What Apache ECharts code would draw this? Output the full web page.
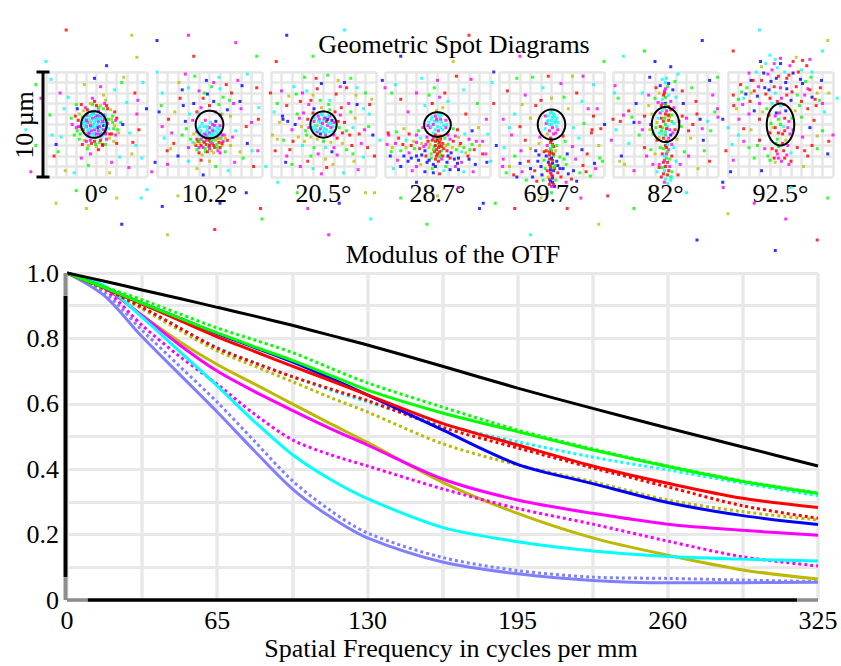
<!DOCTYPE html>
<html>
<head>
<meta charset="utf-8">
<script src="https://cdn.jsdelivr.net/npm/echarts@6/dist/echarts.min.js"></script>
<style>
html,body{margin:0;padding:0;background:#fff;overflow:hidden}
#c{width:841px;height:666px}
</style>
</head>
<body>
<div id="c"></div>
<script>
// ---------- MTF data (modulus vs spatial frequency, cycles/mm) ----------
const freq = [0, 16.25, 32.5, 48.75, 65, 81.25, 97.5, 113.75, 130, 162.5, 195, 227.5, 260, 292.5, 325];
const freqTickLabels = [0, 65, 130, 195, 260, 325];
const mtfTickLabels = [0, 0.2, 0.4, 0.6, 0.8, 1.0];

const mtfDiffraction = [1, 0.975, 0.948, 0.922, 0.895, 0.868, 0.84, 0.81, 0.78, 0.715, 0.648, 0.586, 0.526, 0.468, 0.41];
const mtfGreenT   = [1, 0.955, 0.908, 0.862, 0.817, 0.774, 0.733, 0.688, 0.642, 0.572, 0.515, 0.459, 0.408, 0.362, 0.326];
const mtfGreenS   = [1, 0.958, 0.918, 0.875, 0.832, 0.795, 0.757, 0.71, 0.664, 0.59, 0.52, 0.462, 0.41, 0.364, 0.327];
const mtfBlueT    = [1, 0.955, 0.908, 0.862, 0.815, 0.772, 0.728, 0.679, 0.627, 0.52, 0.415, 0.356, 0.298, 0.258, 0.231];
const mtfRedT     = [1, 0.954, 0.905, 0.855, 0.805, 0.76, 0.715, 0.672, 0.627, 0.54, 0.474, 0.41, 0.357, 0.311, 0.283];
const mtfRedS     = [1, 0.952, 0.895, 0.832, 0.77, 0.725, 0.683, 0.646, 0.61, 0.528, 0.465, 0.404, 0.346, 0.288, 0.25];
const mtfCyanS    = [1, 0.952, 0.895, 0.832, 0.772, 0.726, 0.683, 0.643, 0.606, 0.537, 0.484, 0.437, 0.398, 0.357, 0.319];
const mtfOliveS   = [1, 0.95, 0.89, 0.825, 0.762, 0.715, 0.668, 0.62, 0.575, 0.478, 0.413, 0.362, 0.306, 0.27, 0.245];
const mtfOliveT   = [1, 0.955, 0.87, 0.79, 0.72, 0.66, 0.60, 0.54, 0.482, 0.36, 0.265, 0.19, 0.137, 0.092, 0.064];
const mtfMagentaT = [1, 0.955, 0.87, 0.78, 0.70, 0.637, 0.58, 0.525, 0.474, 0.37, 0.306, 0.265, 0.232, 0.213, 0.198];
const mtfCyanT    = [1, 0.96, 0.865, 0.76, 0.655, 0.545, 0.445, 0.37, 0.31, 0.222, 0.178, 0.15, 0.133, 0.125, 0.119];
const mtfMagentaS = [1, 0.95, 0.84, 0.745, 0.66, 0.568, 0.49, 0.445, 0.41, 0.34, 0.28, 0.232, 0.18, 0.132, 0.104];
const mtfVioletT  = [1, 0.93, 0.805, 0.69, 0.575, 0.455, 0.34, 0.255, 0.19, 0.116, 0.08, 0.06, 0.053, 0.053, 0.054];
const mtfVioletS  = [1, 0.94, 0.825, 0.715, 0.605, 0.485, 0.365, 0.275, 0.205, 0.13, 0.09, 0.07, 0.066, 0.061, 0.056];

// ---------- spot diagram data (µm, relative to chief ray); x, y, wavelength index ----------
const fieldAngles = ['0°', '10.2°', '20.5°', '28.7°', '69.7°', '82°', '92.5°'];
// Airy disk per field: centre x, centre y, radius x, radius y (µm)
const airyDisks = [
  [-0.25, 0, 1.27, 1.27], [0, 0, 1.32, 1.32], [0, 0, 1.25, 1.25], [0, 0, 1.27, 1.17],
  [0, 0, 1.31, 1.43], [0, 0, 1.31, 1.67], [0, 0, 1.31, 2.0]
];
const spot0 = [
 -0.3,0,3, 0.2,0.3,4, -0.8,0.5,3, 0.5,-0.4,3, -0.5,-0.6,4, 0.0,0.9,3, -1.0,-0.2,4, 0.8,0.2,3, -0.2,-1.0,3, 0.4,0.8,4,
 -0.9,0.9,1, 0.9,-0.8,0, -1.2,0.3,3, 0.1,-0.3,2, -0.6,0.2,5, 0.6,0.6,3, -0.4,0.6,4, 0.3,-0.9,4, -0.9,-0.7,3, 1.0,-0.2,4,
 -0.1,0.4,3, 0.7,-0.1,2, -1.3,-0.5,0, -0.5,1.2,3, 0.2,1.3,4, 0.9,0.9,3, -0.2,-0.5,4, -0.7,-1.1,3, 0.5,-1.2,3, 1.2,0.5,1,
 -0.1,0.7,4, 0.5,0.1,3, -0.6,-0.3,3, 0.2,-0.6,4, -0.4,-0.2,3, 0.7,0.9,4, -1.1,0.6,3, 0.9,-0.5,3, -0.8,-0.9,4, 0.0,-1.2,3,
 0.3,1.0,3, -0.5,0.9,3, 1.1,0.1,4, -1.2,-0.1,3, 0.6,-0.9,4, -0.3,1.1,4, 0.1,0.0,3, -0.9,0.2,4, 0.4,0.5,3, -0.2,-0.8,3,
 -1.0,0.4,4, -0.7,0.8,3, -0.3,1.0,3, 0.1,0.8,4, 0.5,0.9,3, 0.8,0.5,4, 1.0,0.3,3, 0.9,-0.1,3, 0.7,-0.5,4, 0.4,-0.7,3,
 0.0,-0.9,4, -0.4,-0.9,3, -0.8,-0.5,3, -1.1,-0.3,3, -1.0,0.1,3, -0.6,-0.1,4, -0.2,0.2,3, 0.2,0.5,3, 0.3,-0.2,4, -0.1,-0.3,3,
 -0.5,0.4,3, 0.6,0.3,4, 0.0,0.6,3, -0.7,-0.8,4, 0.6,-1.0,3, -0.2,1.3,3, 0.9,-0.9,4, -1.3,0.1,3, -1.0,0.9,4, 1.2,-0.4,3,
 -1.8,0.4,0, -1.6,-0.9,1, -1.2,-1.5,5, -0.5,-1.8,0, 0.3,-1.7,1, 1.0,-1.4,4, 1.5,-0.9,0, 1.8,-0.1,5, 1.6,0.8,1, 1.1,1.5,0,
 0.4,1.8,5, -0.4,1.9,1, -1.1,1.6,4, -1.7,1.0,5, -2.0,-0.3,4, -1.4,-1.9,0, 0.0,-2.1,5, 0.9,-1.9,1, 1.9,-1.0,4, 2.0,0.6,0,
 1.4,1.4,5, -0.2,2.2,0, -1.9,1.5,2, -2.2,-1.0,1, 0.6,-2.0,0, 2.1,-0.5,1, -0.8,-2.0,5, 1.7,-1.6,5, -1.5,1.9,0, 0.8,2.0,4,
 -1.6,-0.2,0, 1.6,0.2,1, -1.3,1.3,5, 1.3,-1.3,5, -0.2,-1.6,0, 0.2,1.6,1, -1.0,-1.6,4, 1.0,1.8,0, -1.9,-0.6,1, 1.9,0.4,4,
 -0.6,2.0,5, 0.6,-1.9,0, -2.1,0.8,0, 2.2,-0.8,5, -1.7,-1.4,1, 1.8,1.2,0, -0.9,-2.3,1, 0.9,2.3,5, -2.4,0.0,4, 2.4,0.2,1,
 0.2,-2.4,0, -0.4,2.5,4, -2.0,1.9,1, 2.0,-1.8,0,
 -1.4,0.7,1, 1.5,0.5,5, -0.9,1.4,0, 0.7,1.5,1, -1.5,-0.5,5, 1.3,-0.9,0, -0.6,-1.5,4, 0.4,-1.5,0, -1.8,-0.2,4, 1.7,-0.4,1,
 0.0,1.8,0, -0.1,-1.9,1,
 -2.8,2.6,3, 3.0,2.1,3, -3.5,-1.2,3, 3.6,-1.7,0, 2.3,-3.1,3, -0.8,-3.9,1, 0.4,3.6,4, -3.6,3.0,4, 4.0,1.0,4, -4.2,-3.0,0,
 1.8,3.3,3, -1.5,-3.2,4, 3.2,-4.1,4, -4.6,0.9,1, 4.5,-3.2,3, -0.2,4.4,2, 2.7,4.5,5, -3.1,-4.4,5, 1.3,-4.6,5, 4.6,4.0,3,
 -4.5,4.3,3, 0.7,2.8,5, -2.5,0.6,1, 2.6,0.0,2, -0.6,-2.8,4, 4.2,-0.5,0, -4.0,-1.9,2, 3.8,3.0,0,
 -3.2,1.5,3, 3.3,-0.8,3, -1.2,3.8,5, 1.5,-3.6,4, -4.4,-1.0,3, 4.1,2.3,4, -2.2,-4.6,3, 2.5,4.0,1, -3.8,-2.6,1, 3.5,-2.8,5,
 -6.0,-2.0,1, -5.5,2.5,4, 5.8,-3.6,2, 6.2,1.2,2, -2.0,-6.3,1, 2.0,-7.0,5, -5.0,6.0,3, 4.0,6.4,5, 1.0,5.6,2, -7.0,-0.5,3,
 6.5,-0.2,4, -3.0,9.0,0, 3.5,8.5,5, -1.0,-8.0,5, 5.0,-6.2,3,
 -6.5,-4.5,4, 7.0,-2.5,0, -4.0,-7.5,5, 6.0,5.0,3, -6.0,3.8,1, 2.5,-9.5,2
];
const spot1 = [
 -0.5,-0.2,3, 0.3,-0.4,3, 0.0,-0.8,4, -0.8,-0.6,3, 0.7,-0.7,3, -0.3,-1.0,4, 0.5,-0.1,4, -0.9,-0.2,3, 0.9,-0.4,3, 0.1,0.2,3,
 -0.4,0.4,4, 0.6,0.3,2, -0.2,-0.5,3, 0.2,-1.1,3, -0.6,-1.2,4, 0.8,-1.0,4, -1.0,-1.0,3, 1.1,-0.8,3, 0.0,-0.3,4, -0.7,0.1,3, 0.4,-0.9,3,
 -0.3,-0.7,3, 0.5,-0.6,3, 0.2,-0.9,3, -0.5,-0.9,4, 0.7,-0.3,3, -0.2,-0.2,3, 0.3,0.0,4, -1.1,-0.4,3, 1.0,-0.1,4,
 -0.9,-0.8,3, -0.4,-1.2,3, 0.1,-1.3,3, 0.6,-1.1,3, 1.0,-0.6,3, -1.2,-0.7,4, 1.2,-1.0,4, -0.7,-1.0,3, 0.3,-0.6,4, -0.1,-1.0,3,
 0.8,-1.3,4, -0.3,-1.5,4, 0.9,-0.9,3,
 -1.2,-1.4,0, -0.6,-1.6,1, 0.0,-1.5,0, 0.6,-1.5,5, 1.1,-1.3,1, -0.9,-1.8,5, -0.3,-1.9,0, 0.3,-1.8,4, 0.9,-1.7,0, 1.4,-1.0,4,
 -1.5,-0.9,5, -0.1,-2.1,1, 0.5,-2.2,0, -0.6,-2.2,4, 1.2,-2.0,5, -1.3,-2.0,0, -1.8,-1.4,1, 1.7,-1.5,0, 0.2,-2.5,5, -0.4,-2.6,1,
 0.8,-2.5,4, -1.0,-2.7,0, 1.5,-2.6,1, -2.0,-2.2,4, 2.0,-2.0,5, -1.6,-1.7,3,
 -0.2,-1.3,0, 0.4,-1.4,1, -0.8,-1.4,4, 0.9,-1.3,5, -0.5,-1.7,0, 0.1,-1.7,4, 0.7,-1.9,1, -1.1,-1.6,0, 1.3,-1.6,4, -0.1,-1.9,5,
 0.4,-2.0,0, -0.4,-2.3,1, -1.0,-2.2,4, 1.0,-2.2,0, 0.0,-2.3,4,
 0.2,-1.6,1, -1.0,-1.5,1, 1.2,-1.8,0, -0.8,-2.0,0, 0.7,-2.2,1, -1.4,-1.8,5, 1.5,-1.3,5, -0.2,-2.6,0, 0.4,-2.7,5, -1.2,-2.4,1,
 1.0,-2.7,4, -0.7,-2.9,5, 0.0,-2.0,0,
 -1.5,2.0,2, -0.6,2.5,0, 0.4,2.2,2, 1.3,2.6,1, -1.0,3.2,4, 0.2,3.6,1, 1.0,3.4,3, -2.0,3.5,3, 2.1,3.0,0, -0.3,4.2,2,
 0.9,4.5,3, -1.4,4.6,1, 2.7,4.2,4, -2.8,2.5,0, 3.0,1.5,4, -3.3,1.2,5, 1.7,1.4,2, -1.9,1.0,3, -3.9,0.5,0, 4.0,0.2,4,
 -4.3,-1.3,3, 3.6,-1.8,2, -2.6,-1.0,1, 2.5,-0.6,3, -3.0,-3.0,2, 3.2,-3.2,1, 0.0,-3.5,5, -1.2,-4.2,5, 1.8,-4.4,3, -4.0,-3.8,4,
 4.2,-4.0,0, -0.6,-4.8,2, 2.9,2.2,2, -4.5,3.0,3, 4.5,3.5,0, -2.3,4.8,4, 3.6,4.8,3, -3.7,-2.3,5, 4.6,-2.5,4, -2.3,0.3,2,
 2.0,0.8,5, 0.0,1.8,0, -0.8,1.6,4, 0.9,1.9,1,
 -1.2,1.2,0, 1.2,1.0,5, -2.5,1.8,2, 2.3,2.0,4, -0.5,3.0,1, 1.6,3.8,0, -2.9,4.0,5, 3.1,3.7,2, -3.6,-0.8,4, 3.5,-0.2,0,
 -2.0,-3.5,3, 2.4,-3.6,4, -0.8,-3.4,0, 0.6,-4.0,1, -4.6,1.8,1, 4.7,1.6,3, 1.0,0.9,2, -1.6,0.4,4,
 -1.0,1.0,3, 0.6,1.2,4, -2.2,-0.4,1, 2.2,-1.2,4, -0.2,2.9,2, 1.9,2.3,1, -2.6,3.3,2, 0.4,4.0,4, -3.4,-1.8,0, 2.9,-2.6,5,
 -6.0,1.5,2, 6.0,-1.0,5, -5.5,-4.5,4, 5.8,3.0,0, -3.0,-6.8,5, 3.5,-6.5,2, 1.0,-7.5,2, -1.5,6.5,0, 2.5,7.8,4, -5.0,8.0,2,
 6.5,-5.5,3, -4.0,-10.5,5, 5.0,-9.0,1, -6.5,-7.0,3,
 -7.0,-2.0,3, 7.0,0.5,2, -2.0,8.5,4, 4.5,6.5,1, -4.5,-7.8,2, 0.5,-10.0,0
];
const spot2 = [
 -0.3,0.2,3, 0.4,-0.1,4, -0.7,-0.4,3, 0.2,0.7,3, 0.8,0.4,2, -0.5,0.8,4, 0.0,-0.7,3, -0.9,0.3,4, 0.6,-0.7,3, -0.3,-0.9,2,
 0.9,-0.2,3, -0.1,0.1,4, 0.3,0.3,0, -0.6,-0.1,5,
 0.1,-0.4,3, -0.4,0.5,4, 0.5,0.1,3, -0.8,-0.1,3, 0.6,0.8,4, -0.2,1.0,3, 0.2,-1.0,4, -0.6,-0.7,4, 0.9,-0.6,3, -1.0,0.7,3,
 0.0,0.4,3, -0.3,-0.4,4, 0.4,0.5,2, -0.9,-0.6,3, 0.7,-0.3,4,
 -0.5,0.3,3, 0.3,-0.5,3, 0.7,0.1,3, -0.2,-0.2,3, 0.1,0.6,4, -0.8,0.6,3, 0.5,0.9,3, -0.4,-0.6,3, 1.0,0.2,4, -1.0,-0.3,3,
 0.2,-0.8,3, -0.1,0.9,3,
 -1.5,0.5,0, 1.5,-0.3,1, -1.2,-1.2,5, 1.1,1.2,0, 0.0,-1.6,1, -0.2,1.6,5, 1.6,0.9,4, -1.7,-0.6,1, 1.3,-1.3,0, -0.9,1.5,2,
 0.7,-1.7,5, -1.9,1.1,4, 2.0,0.2,0, -2.1,-0.2,5, 0.5,1.9,1,
 -1.4,-0.3,4, 1.4,0.3,0, -0.6,-1.4,5, 0.6,1.4,1, -1.0,1.1,0, 1.0,-1.0,4, -2.3,0.6,4, 2.2,-0.6,1, -1.8,-1.6,5, 1.7,1.6,0,
 -0.3,2.3,1, 0.2,-2.2,3,
 -2.5,1.0,1, 2.5,-1.0,0, -3.0,-0.5,4, 3.0,0.6,5, -2.2,2.2,0, 2.4,2.0,4, -2.0,-2.0,3, 2.2,-2.4,1, -1.0,2.8,5, 1.2,2.9,0,
 -0.5,-2.8,4, 0.8,-2.6,2, -3.5,1.8,0, 3.6,-1.8,4, -3.8,-1.5,1, 3.8,1.5,3, -1.5,-3.5,0, 1.6,3.6,4, -4.2,0.2,5, 4.3,-0.2,1,
 -2.8,3.6,3, 2.9,-3.5,5, -0.2,3.9,2, 0.3,-4.1,0, -4.0,3.2,4, 4.0,3.0,1, -3.6,-3.6,2, 3.3,-4.3,4, -1.8,4.5,1, 1.9,-4.6,3,
 -4.6,-2.5,0, 4.6,2.4,5, -2.7,0.0,2, 2.8,-0.3,3, -1.4,1.9,4, 1.8,-1.8,5, -2.9,-1.6,0, 3.2,1.9,2, -0.9,-2.2,1, 0.6,2.3,3,
 -3.3,2.7,5, 2.2,3.5,0, -4.7,1.2,3, 4.7,-1.0,2, -2.2,-4.0,4, 2.6,4.4,1,
 -3.2,-2.4,0, 3.1,2.8,5, -1.2,-3.0,1, 1.3,-2.9,4, -2.6,2.9,1, 2.7,-2.0,0, -3.9,0.8,2, 3.9,-0.5,4, -0.7,4.4,0, 0.9,-3.8,5,
 -4.4,-1.4,5, 4.4,1.9,0, -1.6,3.2,3, 2.0,4.0,2, -3.0,-3.8,1, 3.8,-3.1,3, -0.2,-4.7,4, 0.4,4.7,1,
 -1.6,-1.0,1, 1.8,-0.8,0, -2.4,-1.2,5, 2.6,1.2,1, -1.2,2.3,0, 1.0,-2.2,4, -3.4,0.3,2, 3.4,-0.9,0, -2.0,3.0,4, 2.8,-2.8,1,
 -0.6,3.4,0, 0.2,-3.3,5, -4.4,2.0,1, 4.2,-2.2,0, -1.0,-4.2,3, 1.4,4.2,5, -3.5,-3.0,4, 3.2,3.5,3,
 -6.2,0.5,0, 6.2,-1.0,4, -5.5,-4.0,3, 5.6,4.2,2, -2.5,-6.5,1, 1.5,-7.5,2, -1.0,6.5,1, 3.0,7.0,5, -6.0,-8.0,0, 0.5,-10.5,4,
 4.5,-9.0,3, -3.5,8.5,2,
 -6.8,-2.5,3, 6.5,3.0,1, -4.5,6.0,0, 4.0,-6.5,5, -1.5,-8.0,4, 2.0,9.0,3
];
const spot3 = [
 -0.3,0.3,3, 0.3,0.5,4, 0.0,-0.2,3, -0.7,-0.3,4, 0.6,-0.1,3, -0.2,0.8,4, 0.4,0.9,3, -0.6,0.5,3, 0.8,0.4,4, 0.1,-0.6,4, -0.4,-0.8,3,
 0.0,0.3,3, -0.4,0.0,4, 0.4,0.2,3, -0.2,-0.5,3, 0.2,0.7,3, -0.8,0.2,3, 0.8,-0.3,4,
 -0.6,-0.2,3, 0.5,-0.5,3, -0.1,0.5,4, 0.3,-0.3,3, -0.5,0.7,3, 0.9,0.0,3, -0.9,-0.1,4, 0.1,1.0,3,
 -0.5,2.0,0, 0.2,2.6,4, -0.3,3.5,1, 0.5,1.6,5, -1.2,1.8,3, 1.0,2.2,3, 0.0,4.2,4, -2.0,3.0,4, 2.5,3.3,3, -3.5,2.4,0,
 3.8,2.0,1, -1.5,4.4,3, 1.8,4.6,0,
 -0.8,2.8,1, 0.7,3.0,0, -2.8,1.2,4, 2.7,1.0,0, -4.0,3.8,3, 3.2,4.3,4, -0.1,1.3,5,
 0.0,-1.2,0, -0.2,-1.6,0, 0.2,-2.0,0, -0.1,-2.4,0, 0.1,-1.8,1, 0.3,-1.4,0, -0.3,-2.1,1, 0.0,-2.8,0, 0.4,-2.5,1, -0.4,-1.3,4, 0.2,-3.1,1,
 -0.2,-1.0,0, 0.3,-1.1,0, -0.5,-1.5,0, 0.5,-1.8,0, -0.3,-2.6,0, 0.1,-2.2,0, -0.1,-1.4,1, 0.6,-2.3,0, -0.6,-2.8,1, 0.3,-2.9,1,
 -0.2,-3.3,0, 0.7,-1.3,1, -0.9,-1.6,0, 1.0,-1.9,1,
 0.0,-1.5,0, 0.2,-1.7,0, -0.2,-2.0,0, 0.4,-2.1,0, -0.4,-2.4,1, 0.2,-2.6,0, -0.1,-3.0,0, 0.5,-3.0,0, -0.6,-3.2,1, 0.1,-3.5,0,
 -0.8,-2.2,5, 0.9,-2.5,0, -1.1,-1.9,4, 1.2,-1.4,4, -1.7,-2.3,0, 1.8,-2.4,1, -2.0,-1.7,4, 2.1,-2.0,5, -1.0,-3.6,2, 1.0,-3.0,2,
 -1.8,-3.4,2, 1.9,-3.7,2, -3.0,-2.2,5, 3.1,-2.4,1, -3.7,-1.3,0, 3.7,-1.6,4, -4.4,-2.6,1, 4.3,-2.8,0, -3.2,-3.0,2, 3.0,-3.3,2,
 -0.4,-4.6,2, 0.8,-4.0,1, -2.0,-4.0,4, 2.0,-4.3,2,
 -1.0,-1.2,4, 1.0,-1.0,4, -1.5,-1.8,5, 1.5,-1.6,0, -2.0,-1.0,4, 2.0,-1.2,5, -2.5,-2.0,0, 2.5,-2.2,1, -3.0,-1.5,3, 3.0,-1.4,4,
 -3.5,-2.5,1, 3.5,-2.4,0, -4.0,-1.8,4, 4.0,-2.0,5, -1.2,-2.5,2, 1.3,-2.7,2, -2.0,-3.0,2, 2.0,-3.2,2, -0.8,-3.4,2, 0.9,-3.6,2,
 -2.8,-3.5,2, 2.9,-3.0,0, -1.6,-3.8,5, 1.7,-4.0,4, -3.8,-3.4,4, 3.6,-3.8,2, -4.5,-3.0,2, 4.6,-2.8,4, -0.5,-4.2,1, 0.6,-4.4,3,
 -2.4,-4.4,4, 2.5,-4.5,3, -4.7,-0.8,0, 4.8,-0.9,3, -1.8,-0.6,1, 1.9,-0.5,0, -3.2,-0.4,5, 3.3,-0.6,2, -0.7,-1.9,5, 0.8,-2.0,5,
 -1.1,-3.0,0, 1.2,-3.2,0, -0.4,-3.8,2, 0.4,-3.3,4, -2.2,-2.3,1, 2.3,-2.6,3, -4.2,-4.2,3,
 -1.3,-2.1,4, 1.4,-2.2,5, -1.6,-1.3,3, 1.7,-1.1,4, -2.3,-1.6,5, 2.2,-1.8,0, -2.7,-2.7,4, 2.7,-2.7,5, -3.3,-1.9,0, 3.3,-1.9,1,
 -1.5,-2.9,2, 1.6,-3.3,2, -2.5,-3.2,2, 2.3,-3.6,4, -0.2,-4.0,2, 0.2,-4.7,0, -1.2,-4.5,2, 1.2,-4.3,2, -3.5,-4.0,2, 3.4,-4.5,4,
 -4.3,-2.2,5, 4.3,-1.6,4, -4.8,-1.9,4, 4.7,-3.6,2, -3.9,-0.7,1, 3.9,-0.3,5, -1.4,-0.3,4, 1.5,-0.4,1, -2.7,-0.9,0, 2.6,-0.9,3,
 -5.5,-1.5,3, 5.6,-2.0,2, -5.0,3.5,4, 5.2,4.0,3, -2.0,-5.5,2, 2.0,-6.0,4, 0.0,-6.8,5, -3.5,6.5,2, 3.0,8.5,0, -1.0,-9.5,1,
 5.5,-7.5,1, -6.0,-6.5,5,
 -6.0,-3.0,0, 6.2,-4.0,4, -3.5,-7.0,1, 4.0,-8.0,2, -6.5,1.0,3, 1.5,6.0,5
];
const spot4 = [
 0.0,0.4,3, -0.3,0.8,3, 0.3,0.2,3, -0.5,0.1,4, 0.5,0.6,3, 0.1,-0.3,4, -0.2,-0.6,4, 0.4,-0.8,4, -0.6,-0.4,3, 0.2,1.0,3,
 0.0,0.0,3, -0.3,0.4,3, 0.3,0.8,3, -0.1,1.1,3, 0.5,-0.2,3, -0.6,0.8,4, 0.6,-0.5,4, -0.4,-0.9,5, 0.2,-0.9,4,
 0.1,0.7,3, -0.4,0.3,3, 0.4,0.4,3, 0.0,1.2,3, -0.2,0.0,3, 0.6,0.2,3,
 0.0,-1.5,0, 0.1,-1.9,0, -0.1,-2.3,1, 0.0,-2.7,0, 0.2,-3.0,1, -0.2,-3.3,0, 0.1,-3.7,2, -0.1,-4.0,0, 0.2,-4.4,2, 0.0,-4.8,4,
 -0.2,-5.2,0, 0.1,-5.5,2, 0.0,-5.9,4, -0.4,-2.0,4, 0.4,-2.5,5, -0.5,-3.0,2, 0.5,-3.5,2, -0.6,-4.2,1, 0.6,-4.6,0, -0.3,-5.0,5, 0.4,-5.3,1,
 -0.1,-1.7,0, 0.2,-2.1,0, 0.0,-2.5,1, -0.2,-2.9,0, 0.1,-3.4,0, 0.3,-3.9,1, -0.1,-4.6,0, 0.1,-5.1,2, -0.3,-3.6,2, 0.3,-4.2,0,
 -0.2,-5.7,0, 0.3,-5.9,2, -0.7,-2.6,0, 0.8,-3.1,1, -0.9,-4.8,2, 0.9,-5.0,0, -1.3,-3.5,2, 1.4,-3.8,1, -1.6,-4.4,0, 1.6,-4.7,2,
 -0.1,-1.3,0, 0.1,-2.0,1, -0.2,-2.6,0, 0.2,-2.8,0, 0.0,-3.2,2, -0.2,-3.8,0, 0.2,-4.1,1, -0.1,-4.3,2, 0.1,-4.9,0, -0.1,-5.4,2,
 0.2,-5.7,0, -0.4,-4.4,0, 0.5,-2.0,1, -0.5,-2.5,0, 0.6,-3.9,2, -0.7,-3.4,1, 0.8,-4.2,2, -0.8,-5.3,1,
 -1.5,-2.5,2, 1.5,-2.8,2, -2.2,-3.5,0, 2.3,-3.3,4, -1.0,-4.0,2, 1.1,-4.2,2, -2.8,-4.5,4, 2.7,-4.6,1, -1.8,-5.0,2, 1.9,-5.2,0,
 -3.5,-3.0,1, 3.4,-2.8,0, -4.0,-4.0,5, 4.2,-4.2,4, -1.2,-1.8,5, 1.3,-1.6,1, -2.5,-1.5,0, 2.6,-1.3,3, -3.8,-1.0,4, 3.8,-0.8,0,
 -4.5,-2.2,3, 4.5,-2.0,5,
 -2.0,-2.3,5, 2.0,-2.1,4, -3.0,-3.7,2, 3.0,-3.9,0, -2.4,-5.3,1, 2.4,-5.4,2, -3.6,-4.8,0, 3.7,-4.9,1, -4.6,-3.3,4, 4.6,-3.2,1,
 -1.1,-1.2,4, 1.1,-1.1,0,
 -1.2,-2.9,2, 1.2,-3.3,1, -2.0,-4.2,2, 2.1,-4.4,2, -1.4,-5.4,0, 1.4,-5.5,4, -2.9,-2.5,4, 2.9,-2.4,2, -3.3,-5.0,2, 3.3,-4.5,0,
 -4.3,-4.6,1, 4.1,-3.7,2,
 -1.5,1.8,0, 1.6,1.5,5, -2.5,2.8,4, 2.4,3.0,0, -0.8,3.5,3, 0.9,3.9,4, -3.5,1.0,3, 3.5,1.5,4, -4.2,3.2,0, 4.0,3.8,3,
 -1.8,4.5,1, 2.0,4.6,5, -3.0,-0.2,0, 3.1,0.1,1, -4.6,0.5,4, 4.7,-0.4,0, 0.0,2.5,5, -2.0,0.6,5, 2.1,-0.3,3,
 -1.0,2.3,0, 1.2,2.6,1, -2.8,1.9,5, 2.9,2.2,3, -4.0,-0.3,3, 4.0,0.8,0, -3.3,4.4,1, 3.0,4.6,4, -0.3,4.6,0,
 -5.8,-3.5,3, 5.7,-1.5,4, -5.5,2.0,0, 6.0,3.0,3, -1.0,-7.0,5, 1.5,-8.0,0, 0.0,-6.5,1, -3.0,6.5,4, 2.5,7.0,3, -6.5,-7.5,2,
 4.5,-9.5,5, -2.0,-10.5,3,
 -6.2,0.5,4, 6.5,-3.5,5, -5.5,5.0,2, 5.0,6.0,1, -3.5,-8.0,0, 2.8,-7.0,4
];
const spot5 = [
 0.0,0.0,1, -0.4,0.6,0, 0.4,-0.5,4, -0.6,-0.8,3, 0.6,0.9,1, 0.1,1.3,4, -0.2,-1.3,0, 0.8,0.1,3, -0.8,0.2,5, 0.3,0.4,0,
 -0.3,-0.3,1, 0.5,-1.0,2, -0.5,1.1,4, 0.0,-0.7,3, 0.2,0.8,5, -0.9,-0.3,1, 0.9,-0.5,0,
 -0.2,0.3,0, 0.2,-0.2,3, -0.4,-0.6,1, 0.4,0.7,5, 0.0,1.0,0, 0.0,-1.0,1, -0.7,0.6,3, 0.7,-0.8,4, -0.1,1.6,1, 0.1,-1.6,0,
 -0.1,0.6,1, 0.1,-0.4,0, -0.3,1.3,3, 0.3,-1.3,4, -0.5,-0.2,0, 0.6,0.3,1, -0.6,-1.2,5, 0.5,1.4,0, -0.3,-0.9,3, 0.3,0.9,0,
 0.0,2.0,2, -0.3,2.4,3, 0.3,2.8,3, -0.1,3.2,4, 0.2,3.6,1, -0.4,1.8,0, 0.5,2.2,4, 0.0,4.0,3, -0.6,3.0,5, 0.7,3.3,2,
 -1.0,2.5,1, 1.0,2.6,3,
 -0.3,2.0,4, 0.3,1.7,0, 0.0,2.6,1, -0.1,3.0,0, 0.3,3.9,2, -0.3,4.3,3, 0.8,1.6,4, -0.9,3.5,0, 0.9,4.1,1,
 0.0,1.9,1, -0.2,2.8,0, 0.0,3.4,4, 0.1,4.4,3, -0.7,2.1,4, -0.5,3.7,2,
 0.0,-2.0,0, 0.3,-2.4,4, -0.3,-2.8,0, 0.1,-3.2,1, -0.2,-3.6,0, 0.4,-4.0,4, -0.1,-4.4,3, 0.2,-4.8,0, 0.0,-5.2,3, -0.5,-2.2,1,
 0.6,-3.0,0, -0.6,-3.8,4, 0.6,-4.5,1, -0.4,-5.0,0, 0.5,-5.3,3, -1.0,-2.8,5, 1.0,-3.5,3,
 0.2,-1.9,3, -0.2,-2.3,1, 0.1,-2.8,4, -0.1,-3.0,3, 0.2,-3.6,0, -0.3,-4.1,1, 0.3,-4.4,0, -0.1,-5.5,4, 0.5,-5.0,1, -0.8,-4.5,3,
 0.8,-2.2,3, -0.8,-1.5,0, -1.2,-3.8,4, 1.2,-4.8,0, -1.3,1.0,5, 1.3,0.3,4, -1.2,-0.9,1, 1.1,-1.4,5,
 0.1,-2.2,0, 0.2,-2.6,1, -0.1,-3.4,4, 0.0,-4.0,0, -0.2,-4.7,0, 0.2,-5.6,3, 0.6,-1.9,4, 0.4,-3.3,1, -0.6,-4.1,0, 0.6,-5.0,3,
 -2.0,0.8,0, 2.0,0.6,4, -3.0,0.2,2, 3.0,1.0,0, -4.0,0.9,4, 4.0,0.3,3, -5.0,0.5,0, 5.0,0.7,4, -2.5,-1.0,1, 2.4,-1.3,5,
 -3.5,-1.8,3, 3.6,-1.5,2, -1.6,1.8,5, 1.7,2.0,2, -2.2,3.0,3, 2.5,3.5,1, -4.2,-3.0,2, 4.2,-3.5,0, -1.8,-3.0,4, 1.8,-2.6,1,
 -3.0,-4.4,4, 3.1,-4.2,5, -1.5,4.5,2, 1.2,4.8,3, -4.5,2.5,1, 4.5,2.8,4, -1.5,-0.5,5, 1.5,-0.2,1,
 -2.5,0.2,4, 2.6,0.0,0, -3.5,1.3,0, 3.5,-0.4,4, -4.7,-0.5,3, 4.7,1.2,1, -2.8,2.0,2, 2.9,2.2,0, -2.0,-2.2,0, 2.2,-3.0,4,
 -3.9,-3.8,5, 3.7,-2.5,1, -4.8,3.7,4, 4.2,4.2,2,
 -1.4,0.0,2, 1.6,0.8,0, -2.2,-0.5,4, 2.2,-0.6,0, -3.2,0.7,1, 3.3,0.5,2, -4.3,0.3,0, 4.3,-0.6,1, -1.6,2.8,4, 1.6,3.2,0,
 -1.4,-2.4,1, 1.4,-3.8,4,
 -5.8,0.0,2, 6.0,-0.3,3, -6.5,1.5,4, 6.5,1.8,0, -1.0,6.0,2, 0.5,5.5,2, -2.0,7.0,1, 2.0,-6.5,3, -3.0,-8.0,1, 5.5,-6.0,4,
 -5.5,-6.8,0, 3.0,-11.0,2,
 -7.0,-0.5,0, 7.0,0.5,4, -6.0,-3.5,1, 6.2,-4.5,2, -4.0,6.5,3, 3.5,8.0,2
];
const spot6 = [
 0.0,0.0,1, -0.5,0.8,4, 0.4,-0.6,0, -0.3,-1.4,1, 0.5,1.3,2, 0.0,1.8,3, -0.7,-0.3,5, 0.8,0.3,4, 0.2,-1.8,0, -0.2,0.5,1, 0.3,-0.2,3,
 -0.4,1.1,2, 0.4,0.6,0, -0.9,0.1,1, 0.9,-0.9,4, -0.2,-0.8,0,
 -1.1,0.9,0, 1.1,0.6,1, -0.1,1.1,4, 0.2,-0.9,0, -0.5,-0.3,0, 0.7,-0.3,4, -0.4,-1.8,1, 0.5,-1.5,5,
 -1.0,2.5,0, 1.0,2.3,2, -2.0,2.0,4, 2.0,2.2,0, -1.5,3.5,2, 1.5,3.6,0, -0.5,3.0,3, 0.5,4.0,2, -2.5,3.2,0, 2.6,3.4,4,
 -0.2,4.6,0, -1.2,4.8,4, 1.2,4.9,2, -2.8,4.2,2, 2.9,4.5,1, -3.5,2.5,3, 3.4,1.8,0, -0.3,5.4,3, 0.9,5.6,4, -1.8,5.5,5,
 2.0,5.2,3, -3.2,3.5,1, 3.5,3.0,5, 0.0,3.5,4, -1.3,1.5,1, 1.4,1.3,5, -0.8,2.0,3, 0.6,2.8,0, -2.0,0.5,0, 2.0,0.7,1,
 -3.0,1.0,4, 3.2,0.4,0, -4.2,1.5,5, 4.2,1.2,3, -3.8,3.8,0, 3.9,4.2,2, 0.0,6.3,4, -1.0,6.6,3, 1.5,6.4,5,
 0.1,2.5,4, -0.6,3.6,0, 0.6,3.4,2, -1.4,2.9,0, 1.6,2.8,1, -2.2,2.7,2, 2.3,2.8,4, -1.8,4.2,0, 1.9,4.3,2, -0.9,4.1,2,
 0.8,4.7,0, -0.6,5.8,4, 0.4,5.0,3, -2.3,5.0,3, 2.5,5.6,0, -3.0,4.9,4, 3.0,5.0,3, -3.7,3.1,1, 3.8,3.5,0, -2.9,2.2,0,
 3.0,2.6,2, -1.7,1.2,5, 1.8,1.8,1, -2.5,1.3,2, 2.6,1.5,0, -3.6,1.9,4, 3.7,2.3,1, -4.5,2.8,0, 4.6,3.0,5, -0.5,6.2,3,
 1.2,6.0,0, -1.4,5.8,3, 2.8,6.2,4,
 -0.3,2.2,0, 0.3,1.9,4, -1.1,3.3,2, 1.1,3.1,0, -0.4,4.4,2, 0.6,4.4,0, -1.6,4.9,2, 1.7,5.0,0, -0.8,5.2,4, 0.0,5.8,2,
 -2.6,4.2,0, 2.4,4.1,1, -3.3,2.9,2, 3.3,2.4,0, -2.1,3.6,4, 2.1,3.9,2, -2.8,3.0,5, 2.8,3.3,0, -4.0,2.4,1, 4.0,2.0,4,
 -1.9,6.0,2, 2.1,6.1,0,
 -0.8,-2.3,0, 0.7,-2.0,4, -0.3,-2.8,4, 0.4,-3.2,0, -1.2,-3.0,1, 1.0,-2.7,3, -0.5,-3.6,5, 0.8,-3.8,4, -2.0,-1.5,0, 2.1,-1.2,4,
 -3.0,-2.2,1, 3.0,-2.0,0, -4.0,-1.0,3, 4.0,-0.6,1, -1.8,-4.4,2, 2.2,-4.0,5, -4.5,-3.4,4, 4.5,-2.8,2, -2.8,-0.5,5, 2.8,-0.3,2,
 -0.2,-2.1,1, 0.3,-2.5,0, -0.6,-3.2,0, 0.1,-3.5,4, -1.5,-2.3,4, 1.6,-2.2,0, -2.5,-3.2,1, 2.6,-3.0,0, -1.0,-0.8,0, 1.2,-0.5,4,
 -3.5,-0.4,0, 3.5,-1.1,5, -4.6,-1.9,3, 4.6,-1.6,0,
 -0.4,-2.5,0, 0.6,-2.9,4, -1.0,-3.4,1, 1.0,-3.5,0, -0.2,-3.2,4, -2.2,-2.0,1, 2.3,-2.5,0, -3.5,-1.6,4, 3.5,-2.3,1,
 -5.5,0.5,2, 5.0,-1.0,4, -5.2,-2.5,0, 5.4,2.5,3, -6.0,4.5,1, 6.0,-3.5,2, -4.5,7.0,0, 4.0,7.0,3, 1.0,-6.0,3, -2.5,-7.5,4,
 4.5,-7.0,1, -5.0,-8.5,5, 3.5,-11.0,0, -0.5,-12.0,2,
 -6.0,1.5,4, 6.2,0.5,1, -5.5,-5.5,2, 4.5,8.0,5, -2.0,9.0,3, 0.5,-9.0,4
];
const spotSets = [spot0, spot1, spot2, spot3, spot4, spot5, spot6];
const waveColors = ['#ff0000', '#00ff00', '#0000ff', '#00ffff', '#ff00ff', '#c0c000'];

// ---------- layout ----------
const FONT = '"Liberation Serif", "Times New Roman", serif';
const FS = 26;
const spotLefts = [46, 157, 271, 385, 499, 613, 728];
const spotWidths = [101, 105, 105, 105, 105, 105, 105];
const SPOT_TOP = 72, SPOT_H = 105;

const grids = [], xAxes = [], yAxes = [], series = [];

spotLefts.forEach((l, i) => {
  grids.push({ left: l, top: SPOT_TOP, width: spotWidths[i], height: SPOT_H });
  const gridLine = { show: true, lineStyle: { color: '#e6e6e6', width: 2.5 } };
  xAxes.push({
    gridIndex: i, type: 'value', min: -5, max: 5, interval: 1,
    axisLine: { show: false }, axisTick: { show: false }, axisLabel: { show: false },
    splitLine: gridLine,
    name: fieldAngles[i], nameLocation: 'middle', nameGap: 3,
    nameTextStyle: { fontFamily: FONT, fontSize: FS, color: '#000', verticalAlign: 'top' }
  });
  yAxes.push({
    gridIndex: i, type: 'value', min: -5, max: 5, interval: 1,
    axisLine: { show: false }, axisTick: { show: false }, axisLabel: { show: false },
    splitLine: gridLine
  });
  const pts = [];
  const s = spotSets[i];
  for (let k = 0; k + 2 < s.length; k += 3) {
    pts.push({ value: [s[k], s[k + 1]], itemStyle: { color: waveColors[s[k + 2]] } });
  }
  series.push({
    type: 'scatter', xAxisIndex: i, yAxisIndex: i, data: pts, clip: false,
    symbol: 'rect', symbolSize: 3, silent: true, z: 3
  });
  series.push({
    type: 'custom', xAxisIndex: i, yAxisIndex: i, data: [airyDisks[i]], silent: true, z: 5, clip: false,
    encode: { x: 0, y: 1 },
    renderItem: (params, api) => {
      const c = api.coord([api.value(0), api.value(1)]);
      const r = api.size([api.value(2), api.value(3)]);
      const points = [];
      for (let a = 0; a < 64; a++) {
        const t = a / 64 * Math.PI * 2;
        points.push([c[0] + r[0] * Math.cos(t), c[1] + r[1] * Math.sin(t)]);
      }
      return { type: 'polygon', shape: { points }, style: { fill: 'none', stroke: '#000', lineWidth: 2 } };
    }
  });
});

// ---------- MTF plot ----------
const MTF = 7;
grids.push({ left: 67, right: 23, top: 273, bottom: 66 });
xAxes.push({
  gridIndex: MTF, type: 'value', min: 0, max: 325, interval: 32.5,
  axisLine: { show: false }, axisTick: { show: false },
  axisLabel: {
    margin: 7, fontFamily: FONT, fontSize: FS, color: '#000',
    formatter: v => freqTickLabels.some(t => Math.abs(t - v) < 1e-6) ? String(Math.round(v)) : ''
  },
  splitLine: { show: true, lineStyle: { color: '#e8e8e8', width: 3.5 } }
});
yAxes.push({
  gridIndex: MTF, type: 'value', min: 0, max: 1, interval: 0.1,
  axisLine: { show: false }, axisTick: { show: false },
  axisLabel: {
    margin: 8, fontFamily: FONT, fontSize: FS, color: '#000',
    formatter: v => {
      const hit = mtfTickLabels.find(t => Math.abs(t - v) < 1e-6);
      if (hit === undefined) return '';
      return hit === 0 ? '0' : hit.toFixed(1);
    }
  },
  splitLine: { show: true, lineStyle: { color: '#e8e8e8', width: 3 } }
});

const curves = [
  { d: mtfVioletS, c: '#8080ff', dot: true },
  { d: mtfVioletT, c: '#8080ff', dot: false },
  { d: mtfOliveT, c: '#bdb800', dot: false },
  { d: mtfOliveS, c: '#bdb800', dot: true },
  { d: mtfMagentaS, c: '#ff00ff', dot: true },
  { d: mtfMagentaT, c: '#ff00ff', dot: false },
  { d: mtfCyanT, c: '#00ffff', dot: false },
  { d: mtfCyanS, c: '#00ffff', dot: true },
  { d: mtfRedS, c: '#ff0000', dot: true },
  { d: mtfBlueT, c: '#0000ff', dot: false },
  { d: mtfRedT, c: '#ff0000', dot: false },
  { d: mtfGreenT, c: '#00ff00', dot: false },
  { d: mtfGreenS, c: '#00ff00', dot: true },
  { d: mtfDiffraction, c: '#000000', dot: false }
];
curves.forEach(cv => {
  series.push({
    type: 'line', xAxisIndex: MTF, yAxisIndex: MTF, silent: true,
    data: freq.map((f, i) => [f, cv.d[i]]),
    showSymbol: false, smooth: 0.3,
    lineStyle: { color: cv.c, width: 3, type: cv.dot ? 'dotted' : 'solid', cap: 'butt' },
    z: 4
  });
});

const chart = echarts.init(document.getElementById('c'), null, { renderer: 'svg' });
chart.setOption({
  animation: false,
  backgroundColor: '#fff',
  grid: grids, xAxis: xAxes, yAxis: yAxes, series
});

// ---------- titles, scale bar and axis lines ----------
const g = [];
const text = (str, x, y, rot) => ({
  type: 'text', x, y, rotation: rot || 0, z: 20, silent: true,
  style: { text: str, font: FS + 'px ' + FONT, fill: '#000', textAlign: 'center', textVerticalAlign: 'middle', verticalAlign: 'middle' }
});
g.push(text('Geometric Spot Diagrams', 454, 44));
g.push(text('Modulus of the OTF', 453, 254));
g.push(text('Spatial Frequency in cycles per mm', 451, 648));

// 10 µm scale bar beside the first spot panel
const top0 = chart.convertToPixel({ gridIndex: 0 }, [-5, 5]);
const bot0 = chart.convertToPixel({ gridIndex: 0 }, [-5, -5]);
const bx = top0[0] - 3;
g.push({ type: 'line', z: 20, silent: true, shape: { x1: bx, y1: top0[1], x2: bx, y2: bot0[1] }, style: { stroke: '#000', lineWidth: 3 } });
[top0[1], bot0[1]].forEach(y => g.push({ type: 'line', z: 20, silent: true,
  shape: { x1: bx - 6.5, y1: y, x2: bx + 6.5, y2: y }, style: { stroke: '#000', lineWidth: 3 } }));
g.push(text('10 µm', 24, 125, Math.PI / 2));

// MTF axis lines: black body with grey end caps
const P = v => chart.convertToPixel({ gridIndex: MTF }, v);
const seg = (a, b, col, w) => g.push({ type: 'line', z: 15, silent: true,
  shape: { x1: a[0], y1: a[1], x2: b[0], y2: b[1] }, style: { stroke: col, lineWidth: w } });
const lx = p => [p[0] - 1.5, p[1]];
seg(lx(P([0, 0.93])), lx(P([0, 1])), '#8c8c8c', 4);
seg(lx(P([0, 0.07])), lx(P([0, 0.93])), '#000', 4);
seg(lx(P([0, 0])), lx(P([0, 0.07])), '#8c8c8c', 4);
seg(P([0, 0]), P([9, 0]), '#8c8c8c', 3.5);
seg(P([9, 0]), P([316, 0]), '#000', 3.5);
seg(P([316, 0]), P([325, 0]), '#8c8c8c', 3.5);

chart.setOption({ graphic: g });
</script>
</body>
</html>
